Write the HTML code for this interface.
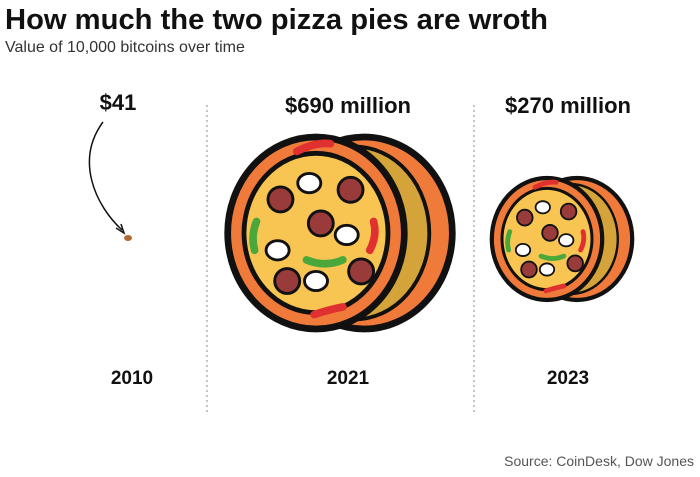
<!DOCTYPE html>
<html><head><style>
body{margin:0;background:#fff;width:700px;height:472px;overflow:hidden;font-family:"Liberation Sans",sans-serif}
</style></head><body>
<svg width="700" height="472" viewBox="0 0 700 472" xmlns="http://www.w3.org/2000/svg">
<defs>
<g id="pz">
 <ellipse cx="50" cy="0" rx="92" ry="100" fill="#f07a3a" stroke="#111" stroke-width="7"/>
 <ellipse cx="40" cy="0" rx="78" ry="90" fill="#d4a43a" stroke="#111" stroke-width="4"/>
 <ellipse cx="0" cy="0" rx="92" ry="100" fill="#f07a3a" stroke="#111" stroke-width="7"/>
 <ellipse cx="0" cy="0" rx="75" ry="83" fill="#f8c552" stroke="#111" stroke-width="5"/>
 <g stroke="#111" stroke-width="3">
  <circle cx="-37" cy="-35" r="13" fill="#9a3b3b"/>
  <circle cx="36" cy="-45" r="13" fill="#9a3b3b"/>
  <circle cx="5" cy="-10" r="13" fill="#9a3b3b"/>
  <circle cx="-30" cy="50" r="13" fill="#9a3b3b"/>
  <circle cx="47" cy="40" r="13" fill="#9a3b3b"/>
  <path d="M-20 -85 q20 -10 35 -8" stroke="#e03030" stroke-width="8" stroke-linecap="round" fill="none"/>
  <path d="M60 -12 q4 15 -4 30" stroke="#e03030" stroke-width="8" stroke-linecap="round" fill="none"/>
  <path d="M-2 85 q15 -5 30 -8" stroke="#e03030" stroke-width="8" stroke-linecap="round" fill="none"/>
  <path d="M-62 -12 q-6 15 -2 30" stroke="#4aa83a" stroke-width="8" stroke-linecap="round" fill="none"/>
  <path d="M-10 28 q20 8 38 0" stroke="#4aa83a" stroke-width="8" stroke-linecap="round" fill="none"/>
  <ellipse cx="-7" cy="-52" rx="12" ry="10" fill="#fff"/>
  <ellipse cx="32" cy="2" rx="12" ry="10" fill="#fff"/>
  <ellipse cx="-40" cy="18" rx="12" ry="10" fill="#fff"/>
  <ellipse cx="0" cy="50" rx="12" ry="10" fill="#fff"/>
 </g>
</g>
</defs>
<text x="5" y="29" font-size="29" font-weight="bold" fill="#111" textLength="543" lengthAdjust="spacingAndGlyphs">How much the two pizza pies are wroth</text>
<text x="5" y="52" font-size="16" fill="#333">Value of 10,000 bitcoins over time</text>
<line x1="207" y1="105" x2="207" y2="412" stroke="#888" stroke-dasharray="2,3"/>
<line x1="474" y1="105" x2="474" y2="412" stroke="#888" stroke-dasharray="2,3"/>
<g font-weight="bold" font-size="22" fill="#111" text-anchor="middle">
 <text x="118" y="110">$41</text>
 <text x="348" y="113">$690 million</text>
 <text x="568" y="113">$270 million</text>
</g>
<path d="M103 122 C75 160 95 205 122 230" stroke="#111" stroke-width="1.5" fill="none"/>
<path d="M116 228 L124 233 L121 224" stroke="#111" stroke-width="1.5" fill="none"/>
<ellipse cx="128" cy="238" rx="4" ry="3" fill="#b06a30"/>
<use href="#pz" transform="translate(316,233) scale(0.96)"/>
<use href="#pz" transform="translate(547,239) scale(0.6,0.61)"/>
<g font-weight="bold" font-size="19" fill="#111" text-anchor="middle">
 <text x="132" y="384">2010</text>
 <text x="348" y="384">2021</text>
 <text x="568" y="384">2023</text>
</g>
<text x="694" y="466" font-size="14" fill="#555" text-anchor="end">Source: CoinDesk, Dow Jones</text>
</svg>
</body></html>
